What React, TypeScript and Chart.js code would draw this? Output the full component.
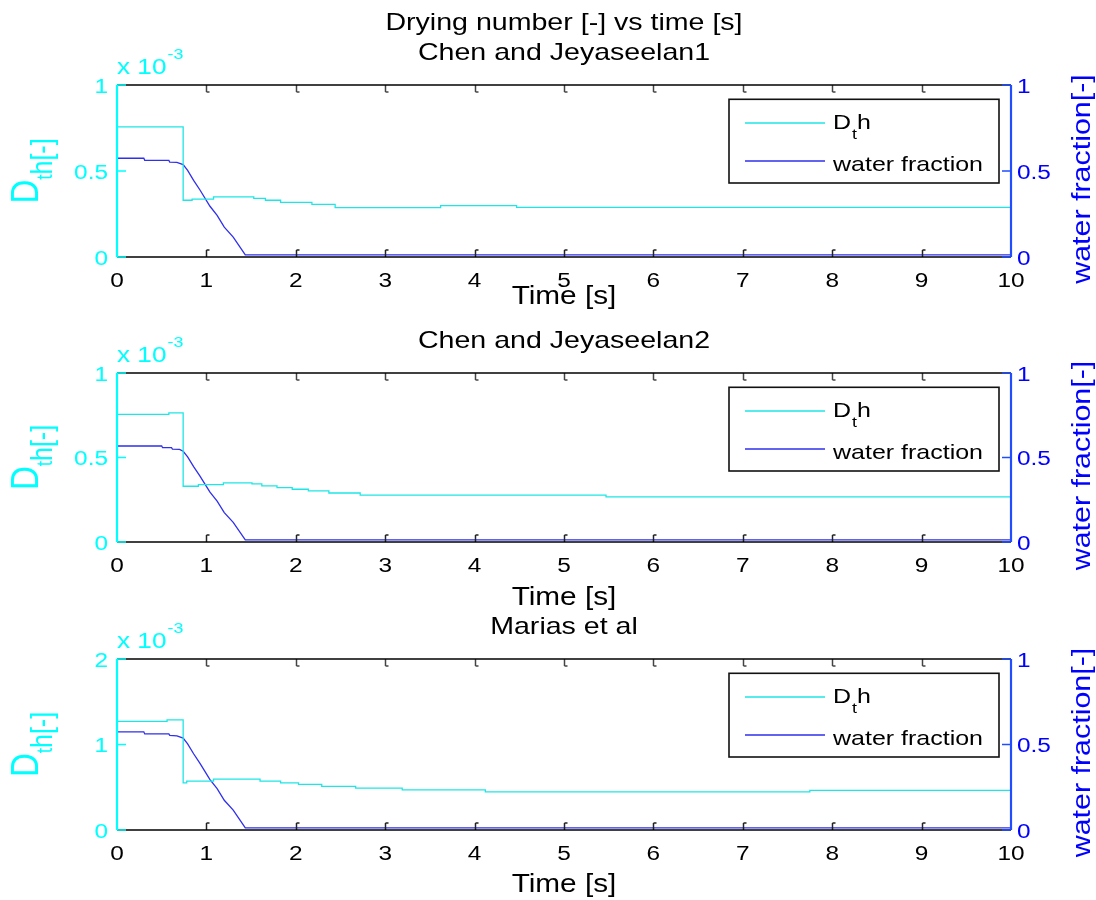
import React, { useEffect, useRef } from 'react';
import { Chart, registerables } from 'chart.js';
Chart.register(...registerables);

// ---------- data ----------
const TIME_TICKS = [0, 1, 2, 3, 4, 5, 6, 7, 8, 9, 10];
const WF_TICKS = [0, 0.5, 1];
const WF_TICK_LABELS = ['0', '0.5', '1'];
const DTH_TICKS_A = [0, 0.5, 1];
const DTH_TICK_LABELS_A = ['0', '0.5', '1'];
const DTH_TICKS_B = [0, 1, 2];
const DTH_TICK_LABELS_B = ['0', '1', '2'];

const TITLE_MAIN = 'Drying number [-] vs time [s]';
const PANEL_TITLES = ['Chen and Jeyaseelan1', 'Chen and Jeyaseelan2', 'Marias et al'];

// Dth values are in units of 1e-3
const P1_DTH_T = [0, 0.74, 0.84, 1.08, 1.53, 1.66, 1.83, 2.18, 2.44, 3.62, 4.47, 10];
const P1_DTH = [0.756, 0.33, 0.337, 0.349, 0.341, 0.33, 0.318, 0.306, 0.287, 0.299, 0.289, 0.289];
const P1_WF_T = [0, 0.30, 0.31, 0.58, 0.59, 0.67, 0.74, 0.79, 0.857, 0.93, 1.04, 1.12, 1.2, 1.3, 1.435, 10];
const P1_WF = [0.574, 0.574, 0.562, 0.562, 0.552, 0.55, 0.537, 0.504, 0.446, 0.388, 0.295, 0.242, 0.174, 0.116, 0.012, 0.012];

const P2_DTH_T = [0, 0.58, 0.74, 0.91, 1.19, 1.51, 1.62, 1.79, 1.96, 2.14, 2.37, 2.72, 5.47, 10];
const P2_DTH = [0.755, 0.764, 0.33, 0.34, 0.35, 0.344, 0.332, 0.322, 0.312, 0.302, 0.29, 0.277, 0.267, 0.267];
const P2_WF_T = [0, 0.50, 0.51, 0.61, 0.62, 0.70, 0.74, 0.79, 0.857, 0.93, 1.04, 1.12, 1.2, 1.3, 1.435, 10];
const P2_WF = [0.568, 0.568, 0.558, 0.558, 0.55, 0.548, 0.537, 0.504, 0.446, 0.388, 0.295, 0.242, 0.174, 0.116, 0.012, 0.012];

const P3_DTH_T = [0, 0.56, 0.74, 0.78, 1.08, 1.60, 1.83, 2.03, 2.29, 2.67, 3.19, 4.12, 7.75, 10];
const P3_DTH = [1.27, 1.288, 0.552, 0.572, 0.595, 0.572, 0.552, 0.533, 0.51, 0.49, 0.47, 0.447, 0.463, 0.463];
const P3_WF_T = [0, 0.30, 0.31, 0.58, 0.59, 0.67, 0.74, 0.79, 0.857, 0.93, 1.04, 1.12, 1.2, 1.3, 1.435, 10];
const P3_WF = [0.574, 0.574, 0.562, 0.562, 0.553, 0.55, 0.537, 0.504, 0.446, 0.388, 0.295, 0.242, 0.174, 0.116, 0.012, 0.012];

// ---------- styling ----------
const FONT = '"Liberation Sans", Arial, Helvetica, sans-serif';
const SX = 1.19;
const CYAN = '#00ffff';
const CYAN_LINE = '#1ee6e6';
const BLUE = '#0000ff';
const BLUE_AXIS = '#1f4dff';
const BLUE_LINE = '#2f2fee';

type PanelCfg = {
  top: number; height: number; padTop: number; padBottom: number;
  title: string; main?: boolean; dthMax: number;
  dthTicks: number[]; dthLabels: string[];
  dthT: number[]; dth: number[]; wfT: number[]; wf: number[];
  xlabelOffset: number;
};

const PANELS: PanelCfg[] = [
  { top: 0, height: 312, padTop: 85, padBottom: 55, title: PANEL_TITLES[0], main: true, dthMax: 1,
    dthTicks: DTH_TICKS_A, dthLabels: DTH_TICK_LABELS_A, dthT: P1_DTH_T, dth: P1_DTH, wfT: P1_WF_T, wf: P1_WF, xlabelOffset: 47 },
  { top: 310, height: 310, padTop: 63, padBottom: 78, title: PANEL_TITLES[1], dthMax: 1,
    dthTicks: DTH_TICKS_A, dthLabels: DTH_TICK_LABELS_A, dthT: P2_DTH_T, dth: P2_DTH, wfT: P2_WF_T, wf: P2_WF, xlabelOffset: 63 },
  { top: 600, height: 300, padTop: 59, padBottom: 70, title: PANEL_TITLES[2], dthMax: 2,
    dthTicks: DTH_TICKS_B, dthLabels: DTH_TICK_LABELS_B, dthT: P3_DTH_T, dth: P3_DTH, wfT: P3_WF_T, wf: P3_WF, xlabelOffset: 62 },
];

function txt(ctx: CanvasRenderingContext2D, s: string, x: number, y: number, size: number, color: string,
  align: 'left' | 'center' | 'right' = 'left', sx = SX): number {
  ctx.save();
  ctx.font = `${size}px ${FONT}`;
  ctx.fillStyle = color;
  ctx.textBaseline = 'alphabetic';
  ctx.textAlign = 'left';
  const w = ctx.measureText(s).width * sx;
  const x0 = align === 'center' ? x - w / 2 : align === 'right' ? x - w : x;
  ctx.translate(x0, y);
  ctx.scale(sx, 1);
  ctx.fillText(s, 0, 0);
  ctx.restore();
  return w;
}

type Part = { s: string; size: number; dv: number };
function vtxt(ctx: CanvasRenderingContext2D, parts: Part[], bx: number, cy: number, color: string, su = 1, sv = 1) {
  ctx.save();
  ctx.fillStyle = color;
  ctx.textBaseline = 'alphabetic';
  ctx.textAlign = 'left';
  const widths = parts.map(p => { ctx.font = `${p.size}px ${FONT}`; return ctx.measureText(p.s).width * su; });
  const total = widths.reduce((a, b) => a + b, 0);
  ctx.translate(bx, cy);
  ctx.rotate(-Math.PI / 2);
  let u = -total / 2;
  parts.forEach((p, i) => {
    ctx.font = `${p.size}px ${FONT}`;
    ctx.save();
    ctx.translate(u, p.dv);
    ctx.scale(su, sv);
    ctx.fillText(p.s, 0, 0);
    ctx.restore();
    u += widths[i];
  });
  ctx.restore();
}

function line(ctx: CanvasRenderingContext2D, x1: number, y1: number, x2: number, y2: number, color: string, w: number) {
  ctx.save();
  ctx.strokeStyle = color;
  ctx.lineWidth = w;
  ctx.beginPath();
  ctx.moveTo(x1, y1);
  ctx.lineTo(x2, y2);
  ctx.stroke();
  ctx.restore();
}

function makeDecor(p: PanelCfg) {
  return {
    id: 'decor',
    afterDraw(chart: any) {
      const ctx: CanvasRenderingContext2D = chart.ctx;
      const a = chart.chartArea;
      const xs = chart.scales.x;
      const yl = chart.scales.yL;
      const yr = chart.scales.yR;
      const cx = (a.left + a.right) / 2;
      const cy = (a.top + a.bottom) / 2;

      // titles
      if (p.main) txt(ctx, TITLE_MAIN, cx, a.top - 55, 24, '#000', 'center');
      txt(ctx, p.title, cx, a.top - 25.2, 24, '#000', 'center');

      // x ticks (inside, top & bottom) and labels
      TIME_TICKS.forEach((t, i) => {
        const x = Math.round(xs.getPixelForValue(t)) + 0.5;
        if (i > 0 && i < TIME_TICKS.length - 1) {
          line(ctx, x, a.bottom, x, a.bottom - 7, '#222', 1.5);
          line(ctx, x, a.bottom - 7, x + 3, a.bottom - 7, '#222', 1.5);
          line(ctx, x, a.top, x, a.top + 7, '#444', 1.5);
          line(ctx, x, a.top + 7, x + 3, a.top + 7, '#444', 1.5);
        }
        txt(ctx, String(t), xs.getPixelForValue(t), a.bottom + 30, 20.5, '#000', 'center');
      });
      txt(ctx, 'Time [s]', cx, a.bottom + p.xlabelOffset, 25, '#000', 'center');

      // frame top/bottom
      line(ctx, a.left, a.top, a.right, a.top, '#000', 1.5);
      line(ctx, a.left, a.bottom, a.right, a.bottom, '#000', 1.5);
      // left axis (cyan)
      line(ctx, a.left, a.top, a.left, a.bottom, CYAN, 2.2);
      p.dthTicks.forEach((v, i) => {
        const y = yl.getPixelForValue(v);
        line(ctx, a.left, y, a.left + 9, y, CYAN, 1.5);
        txt(ctx, p.dthLabels[i], a.left - 9, y + 7.5, 20.5, CYAN, 'right');
      });
      // right axis (blue)
      line(ctx, a.right, a.top, a.right, a.bottom, BLUE_AXIS, 2.2);
      WF_TICKS.forEach((v, i) => {
        const y = yr.getPixelForValue(v);
        line(ctx, a.right, y, a.right - 9, y, BLUE_AXIS, 1.5);
        txt(ctx, WF_TICK_LABELS[i], a.right + 6, y + 7.5, 20.5, BLUE, 'left');
      });

      // exponent label
      const w1 = txt(ctx, 'x 10', a.left, a.top - 11.4, 22, CYAN, 'left');
      txt(ctx, '-3', a.left + w1 + 1, a.top - 26, 15, CYAN, 'left');

      // y labels
      vtxt(ctx, [
        { s: 'D', size: 33, dv: 0 },
        { s: 't', size: 19, dv: 14 },
        { s: 'h[-]', size: 25, dv: 14 },
      ], 38, cy, CYAN, 1, 1.15);
      vtxt(ctx, [{ s: 'water fraction[-]', size: 26, dv: 0 }], 1090, cy + 8, BLUE, 1.17);

      // legend
      const lx1 = 729, lx2 = 999, ly1 = a.top + 14.3, ly2 = a.top + 98;
      ctx.save();
      ctx.fillStyle = '#fff';
      ctx.fillRect(lx1, ly1, lx2 - lx1, ly2 - ly1);
      ctx.restore();
      ctx.save();
      ctx.strokeStyle = '#111';
      ctx.lineWidth = 1.6;
      ctx.strokeRect(lx1, ly1, lx2 - lx1, ly2 - ly1);
      ctx.restore();
      const e1 = a.top + 38, e2 = a.top + 76;
      line(ctx, 745, e1, 825, e1, CYAN_LINE, 1.3);
      line(ctx, 745, e2, 825, e2, BLUE_LINE, 1.3);
      let lx = 833;
      lx += txt(ctx, 'D', lx, e1 + 5.8, 21, '#000', 'left');
      lx += txt(ctx, 't', lx + 1, e1 + 15.5, 15, '#000', 'left') + 1;
      txt(ctx, 'h', lx, e1 + 5.8, 21, '#000', 'left');
      txt(ctx, 'water fraction', 833, e2 + 10, 21, '#000', 'left');
    },
  };
}

function Panel({ p }: { p: PanelCfg }) {
  const ref = useRef<HTMLCanvasElement | null>(null);
  useEffect(() => {
    if (!ref.current) return;
    const chart = new Chart(ref.current, {
      type: 'line',
      data: {
        datasets: [
          {
            label: 'Dth',
            data: p.dthT.map((t, i) => ({ x: t, y: p.dth[i] })),
            borderColor: CYAN_LINE,
            borderWidth: 1.3,
            pointRadius: 0,
            stepped: 'before',
            yAxisID: 'yL',
          },
          {
            label: 'water fraction',
            data: p.wfT.map((t, i) => ({ x: t, y: p.wf[i] })),
            borderColor: BLUE_LINE,
            borderWidth: 1.3,
            pointRadius: 0,
            tension: 0,
            yAxisID: 'yR',
          },
        ],
      },
      options: {
        animation: false,
        responsive: false,
        devicePixelRatio: 1,
        layout: { padding: { left: 117, right: 85, top: p.padTop, bottom: p.padBottom } },
        plugins: { legend: { display: false }, tooltip: { enabled: false }, title: { display: false } },
        scales: {
          x: { type: 'linear', min: 0, max: 10, display: false },
          yL: { type: 'linear', position: 'left', min: 0, max: p.dthMax, display: false },
          yR: { type: 'linear', position: 'right', min: 0, max: 1, display: false },
        },
      },
      plugins: [makeDecor(p)],
    } as any);
    return () => chart.destroy();
  }, [p]);
  return (
    <canvas
      ref={ref}
      width={1096}
      height={p.height}
      style={{ position: 'absolute', left: 0, top: p.top, width: 1096, height: p.height }}
    />
  );
}

export default function App() {
  return (
    <div style={{ position: 'absolute', left: 0, top: 0, width: 1096, height: 900, background: '#fff' }}>
      {PANELS.map((p, i) => <Panel key={i} p={p} />)}
    </div>
  );
}
